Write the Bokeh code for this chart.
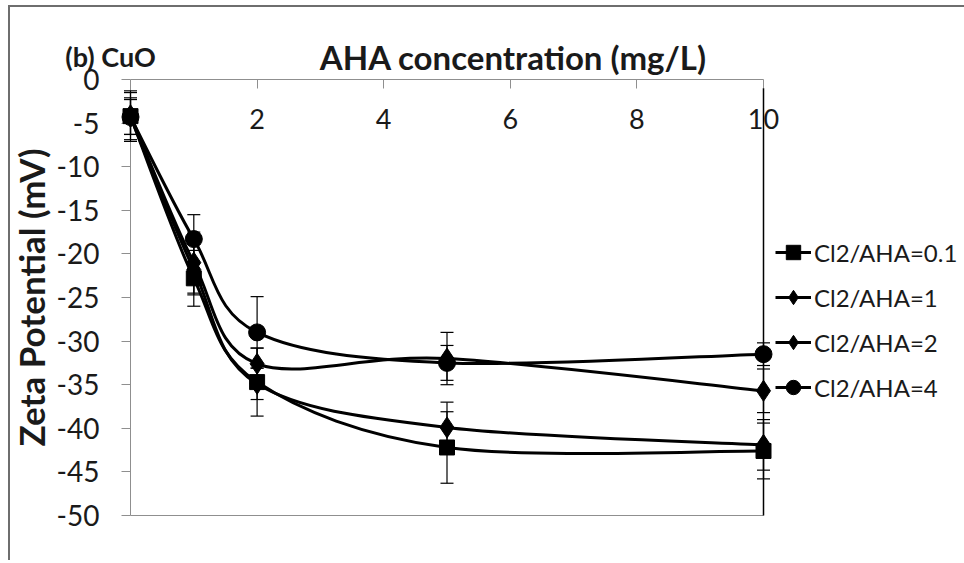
from bokeh.plotting import figure
from bokeh.models import (Range1d, LinearAxis, FixedTicker, ColumnDataSource,
                          Legend, LegendItem)
from bokeh.core.properties import value
from bokeh.embed import file_html
from bokeh.resources import INLINE

# ---------------- data ----------------
aha = [0, 1, 2, 5, 10]
series_names = ["Cl2/AHA=0.1", "Cl2/AHA=1", "Cl2/AHA=2", "Cl2/AHA=4"]
zeta_01 = [-4.2, -22.8, -34.7, -42.2, -42.6]
err_01 = [2.1, 3.2, 3.9, 4.1, 3.2]
zeta_1 = [-4.3, -21.8, -34.9, -39.9, -41.9]
err_1 = [2.0, 2.9, 1.8, 2.9, 2.9]
zeta_2 = [-4.1, -21.0, -32.6, -32.0, -35.7]
err_2 = [2.8, 3.5, 1.8, 3.0, 2.5]
zeta_4 = [-4.3, -18.3, -29.0, -32.5, -31.5]
err_4 = [2.8, 2.8, 4.1, 2.0, 1.3]
markers = ["square", "diamond", "diamond", "circle"]
marker_sizes = [15, 21, 21, 17]
x_ticks = [2, 4, 6, 8, 10]
y_ticks = [0, -5, -10, -15, -20, -25, -30, -35, -40, -45, -50]
title_text = "AHA concentration (mg/L)"
panel_text = "(b) CuO"
y_label = "Zeta Potential (mV)"

FONT = "Lato"
AXIS_GRAY = "#8f8f8f"
TXT = "#1a1a1a"

p = figure(frame_width=633, frame_height=436,
           x_range=Range1d(0, 10), y_range=Range1d(-50, 0),
           x_axis_location="above", toolbar_location=None,
           output_backend="svg", min_border_left=130, min_border_top=79,
           min_border_right=195, min_border_bottom=45)
p.grid.visible = False
p.outline_line_color = None
p.background_fill_color = "white"
p.border_fill_color = None
p.styles = {"box-shadow": "inset 8px 5px 0 0 #ffffff, inset 10px 7px 0 0 #6e6e6e"}

# top x axis
xa = p.xaxis[0]
xa.ticker = FixedTicker(ticks=x_ticks)
xa.axis_line_color = AXIS_GRAY
xa.major_tick_line_color = AXIS_GRAY
xa.major_tick_in = 9
xa.major_tick_out = 0
xa.minor_tick_line_color = None
xa.major_label_standoff = -49
xa.major_label_text_font = FONT
xa.major_label_text_font_size = "27px"
xa.major_label_text_color = TXT

# left y axis
ya = p.yaxis[0]
ya.ticker = FixedTicker(ticks=y_ticks)
ya.major_label_overrides = {t: str(t) for t in y_ticks}
ya.axis_line_color = AXIS_GRAY
ya.major_tick_line_color = AXIS_GRAY
ya.major_tick_in = 0
ya.major_tick_out = 9
ya.minor_tick_line_color = None
ya.major_label_standoff = 22
ya.major_label_text_font = FONT
ya.major_label_text_font_size = "28px"
ya.major_label_text_color = TXT
ya.axis_label = y_label
ya.axis_label_text_font = FONT
ya.axis_label_text_font_style = "bold"
ya.axis_label_text_font_size = "35px"
ya.axis_label_text_color = TXT
ya.axis_label_standoff = 2

# bottom line (axis without ticks/labels)
xb = LinearAxis(ticker=FixedTicker(ticks=[]), axis_line_color=AXIS_GRAY,
                major_tick_in=0, major_tick_out=0, minor_tick_line_color=None,
                major_label_text_font_size="0px")
p.add_layout(xb, "below")

# black vertical line at the last concentration
p.segment(x0=[aha[-1]], y0=[-1], x1=[aha[-1]], y1=[y_ticks[-1]],
          line_color="black", line_width=1.5, level="overlay")


def smooth_bezier(xs, ys):
    n = len(xs)
    out = dict(x0=[], y0=[], x1=[], y1=[], cx0=[], cy0=[], cx1=[], cy1=[])
    for i in range(n - 1):
        i0 = max(i - 1, 0)
        i3 = min(i + 2, n - 1)
        out["x0"].append(xs[i]); out["y0"].append(ys[i])
        out["x1"].append(xs[i + 1]); out["y1"].append(ys[i + 1])
        out["cx0"].append(xs[i] + (xs[i + 1] - xs[i0]) / 6)
        out["cy0"].append(ys[i] + (ys[i + 1] - ys[i0]) / 6)
        out["cx1"].append(xs[i + 1] - (xs[i3] - xs[i]) / 6)
        out["cy1"].append(ys[i + 1] - (ys[i3] - ys[i]) / 6)
    return out


all_vals = [zeta_01, zeta_1, zeta_2, zeta_4]
all_errs = [err_01, err_1, err_2, err_4]
items = []
for name, vals, errs, mk, ms in zip(series_names, all_vals, all_errs, markers, marker_sizes):
    src = ColumnDataSource(dict(x=aha, y=vals,
                                upper=[v + e for v, e in zip(vals, errs)],
                                lower=[v - e for v, e in zip(vals, errs)]))
    p.segment(x0="x", y0="lower", x1="x", y1="upper", source=src,
              line_color="black", line_width=1.2, level="overlay")
    p.scatter(x="x", y="upper", source=src, marker="dash", size=13,
              line_color="black", line_width=1.2, level="overlay")
    p.scatter(x="x", y="lower", source=src, marker="dash", size=13,
              line_color="black", line_width=1.2, level="overlay")
    bz = p.bezier(source=ColumnDataSource(smooth_bezier(aha, vals)),
                  x0="x0", y0="y0", x1="x1", y1="y1",
                  cx0="cx0", cy0="cy0", cx1="cx1", cy1="cy1",
                  line_color="black", line_width=3, level="overlay")
    sc = p.scatter(x="x", y="y", source=src, marker=mk, size=ms,
                   fill_color="black", line_color="black", level="overlay")
    items.append(LegendItem(label=name, renderers=[bz, sc]))

legend = Legend(items=items, location=(12, 110), glyph_width=36, glyph_height=36,
                label_standoff=3, spacing=9, padding=0, margin=0,
                border_line_color=None, background_fill_alpha=0,
                label_text_font=FONT, label_text_font_size="24px",
                label_text_color=TXT)
p.add_layout(legend, "right")

p.text(x=[6.05], y=[2.6], text=[title_text], text_align="center",
       text_baseline="middle", text_font=value(FONT), text_font_style="bold",
       text_font_size="33px", text_color=TXT, level="overlay")
p.text(x=[-1.03], y=[2.6], text=[panel_text], text_align="left",
       text_baseline="middle", text_font=value(FONT), text_font_style="bold",
       text_font_size="27px", text_color=TXT, level="overlay")

open("out.html", "w").write(file_html(p, INLINE))
